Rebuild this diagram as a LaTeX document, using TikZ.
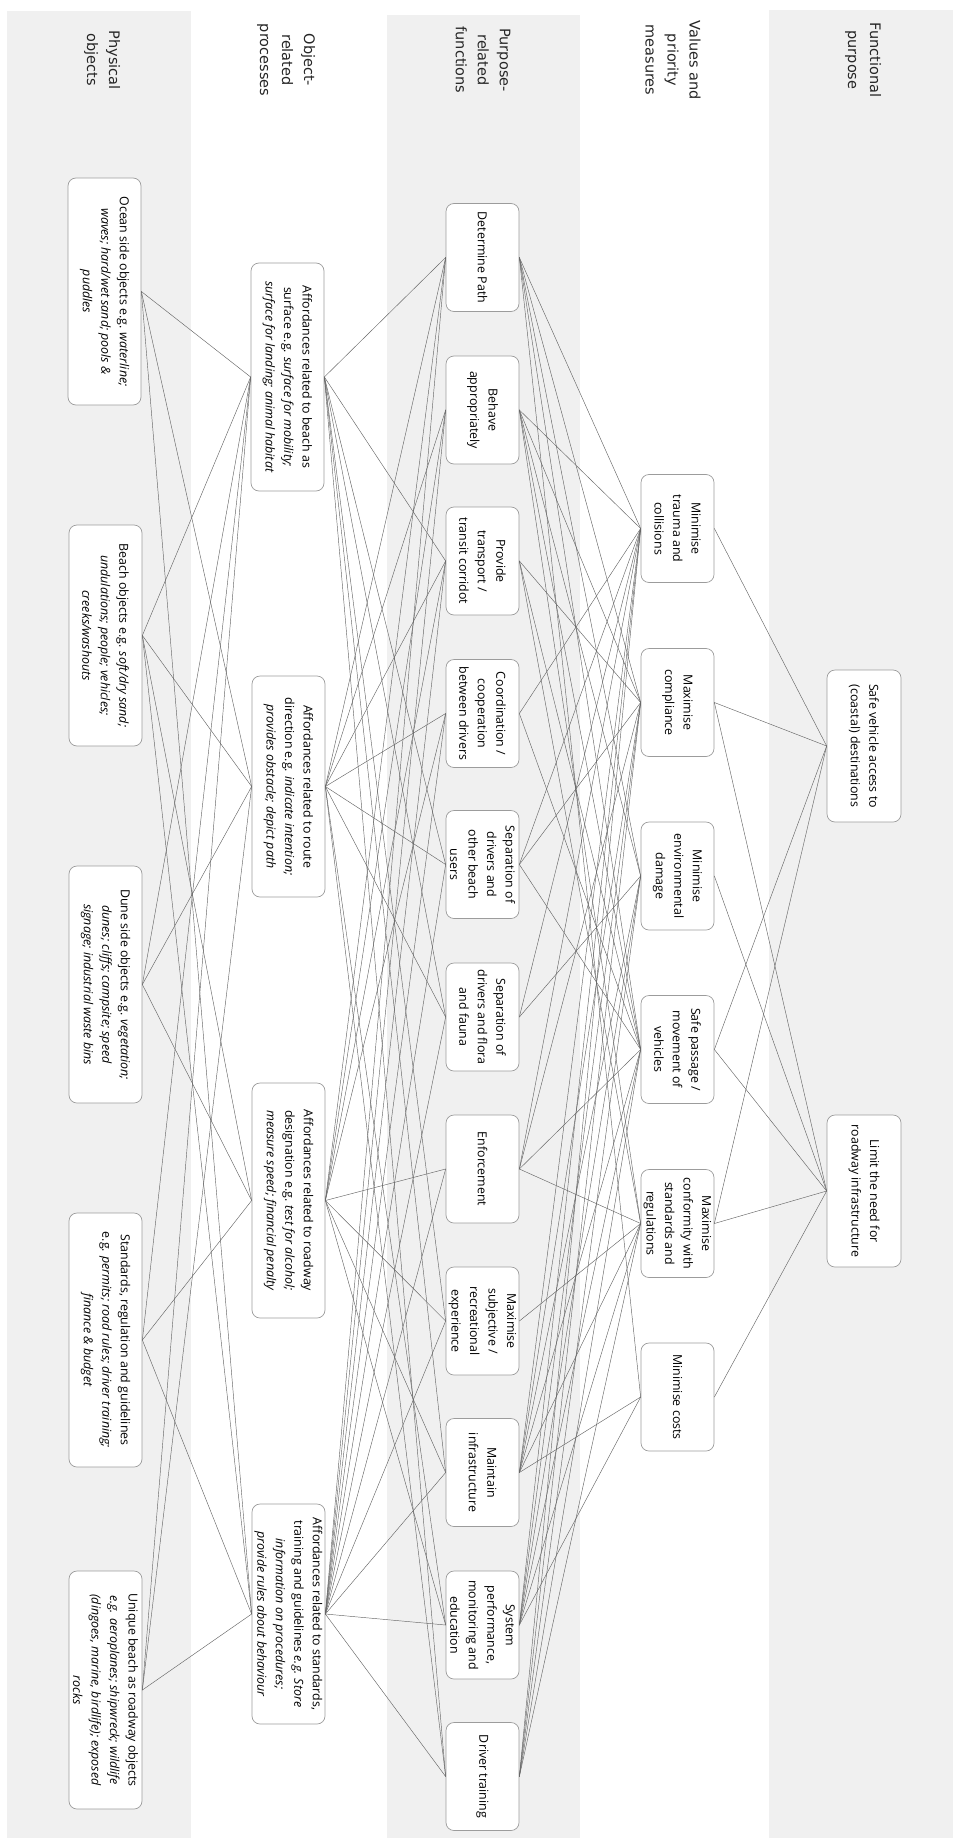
\documentclass[tikz,border=0pt]{standalone}
\usepackage{fontspec}
\setmainfont{Open Sans}
\newfontfamily\headfont{DejaVu Sans}
\definecolor{bandgrey}{HTML}{F0F0F0}
\definecolor{boxgrey}{HTML}{9C9C9C}
\begin{document}
\begin{tikzpicture}[x=1pt, y=-1pt, line join=round, line cap=round,
	box/.style={draw=boxgrey, fill=white, rounded corners=8pt, line width=0.7pt, rotate=-90,
		align=center, inner sep=1pt, minimum height=73pt, font=\fontsize{12.4}{18.5}\selectfont},
	pbox/.style={box, minimum width=227pt},
	obox/.style={box, minimum width=224pt},
	fbox/.style={box, minimum width=108pt},
	vbox/.style={box, minimum width=108pt},
	tbox/.style={box, minimum width=152pt, minimum height=74pt},
	head/.style={rotate=-90, align=center, text=black!85, font=\headfont\fontsize{14.5}{22}\selectfont},
	link/.style={draw=black!60, line width=0.45pt}]
	\useasboundingbox (0,0) rectangle (953,1838);
	% bands
	\fill[bandgrey] (7,11) rectangle (191,1838);
	\fill[bandgrey] (387,15) rectangle (580,1838);
	\fill[bandgrey] (769,10) rectangle (953,1838);
	% headers
	\node[head] (hp) at (102,60) {Physical\\objects};
	\node[head] (ho) at (286,60) {Object-\\related\\processes};
	\node[head] (hf) at (483,60) {Purpose-\\related\\functions};
	\node[head] (hv) at (673,60) {Values and\\priority\\measures};
	\node[head] (ht) at (863,60) {Functional\\purpose};
	% physical objects
	\node[pbox] (p1) at (104.5,291.5) {Ocean side objects e.g. \textit{waterline;}\\\textit{waves; hard/wet sand; pools \&}\\\textit{puddles}};
	\node[pbox, minimum width=221pt] (p2) at (105.5,635.5) {Beach objects e.g. \textit{soft/dry sand;}\\\textit{undulations; people; vehicles;}\\\textit{creeks/washouts}};
	\node[pbox, minimum width=237pt] (p3) at (105.5,984.5) {Dune side objects e.g. \textit{vegetation;}\\\textit{dunes; cliffs; campsite; speed}\\\textit{signage; industrial waste bins}};
	\node[pbox, minimum width=254pt] (p4) at (105.5,1340) {Standards, regulation and guidelines\\e.g. \textit{permits; road rules; driver training;}\\\textit{finance \& budget}};
	\node[pbox, minimum width=238pt] (p5) at (105.5,1690) {Unique beach as roadway objects\\\textit{e.g. aeroplanes; shipwreck; wildlife}\\\textit{(dingoes, marine, birdlife); exposed}\\\textit{rocks}};
	% object-related processes
	\node[obox, minimum width=228pt] (o1) at (287.5,377) {Affordances related to beach as\\surface e.g. \textit{surface for mobility;}\\\textit{surface for landing; animal habitat}};
	\node[obox, minimum width=221pt] (o2) at (288.5,786.5) {Affordances related to route\\direction e.g. \textit{indicate intention;}\\\textit{provides obstacle; depict path}};
	\node[obox, minimum width=235pt] (o3) at (288.5,1200.5) {Affordances related to roadway\\designation e.g. \textit{test for alcohol;}\\\textit{measure speed; financial penalty}};
	\node[obox, minimum width=220pt] (o4) at (288.5,1614) {Affordances related to standards,\\training and guidelines \textit{e.g. Store}\\\textit{information on procedures;}\\\textit{provide rules about behaviour}};
	% purpose-related functions
	\node[fbox] (f1) at (482.5,257.5) {Determine Path};
	\node[fbox] (f2) at (482.5,410) {Behave\\appropriately};
	\node[fbox] (f3) at (482.5,561) {Provide\\transport /\\transit corridot};
	\node[fbox] (f4) at (482.5,713.5) {Coordination /\\cooperation\\between drivers};
	\node[fbox] (f5) at (482.5,864.5) {Separation of\\drivers and\\other beach\\users};
	\node[fbox] (f6) at (482.5,1017) {Separation of\\drivers and flora\\and fauna};
	\node[fbox] (f7) at (482.5,1169) {Enforcement};
	\node[fbox] (f8) at (482.5,1321) {Maximise\\subjective /\\recreational\\experience};
	\node[fbox] (f9) at (482.5,1472.5) {Maintain\\infrastructure};
	\node[fbox] (f10) at (482.5,1625) {System\\performance,\\monitoring and\\education};
	\node[fbox] (f11) at (482.5,1776.5) {Driver training};
	% values and priority measures
	\node[vbox] (v1) at (677.5,528.5) {Minimise\\trauma and\\collisions};
	\node[vbox] (v2) at (677.5,702.5) {Maximise\\compliance};
	\node[vbox] (v3) at (677.5,876) {Minimise\\environmental\\damage};
	\node[vbox] (v4) at (677.5,1049.5) {Safe passage /\\movement of\\vehicles};
	\node[vbox] (v5) at (677.5,1223.5) {Maximise\\conformity with\\standards and\\regulations};
	\node[vbox] (v6) at (677.5,1397) {Minimise costs};
	% functional purpose
	\node[tbox] (t1) at (864,746) {Safe vehicle access to\\(coastal) destinations};
	\node[tbox] (t2) at (864,1191) {Limit the need for\\roadway infrastructure};
	% links
	\foreach \a/\b in {p1/o1,p1/o2,p1/o4, p2/o1,p2/o2,p2/o3,p2/o4, p3/o1,p3/o2,p3/o3,
		p4/o1,p4/o3,p4/o4, p5/o1,p5/o2,p5/o4}
		\draw[link] (\a.north) -- (\b.south);
	\foreach \a/\b in {o1/f1,o1/f3,o1/f5,o1/f6,o1/f8,o1/f9,o1/f11,
		o2/f1,o2/f2,o2/f3,o2/f4,o2/f5,o2/f6,o2/f10,o2/f11,
		o3/f1,o3/f2,o3/f3,o3/f4,o3/f7,o3/f8,o3/f9,o3/f10,
		o4/f1,o4/f2,o4/f3,o4/f4,o4/f5,o4/f6,o4/f7,o4/f8,o4/f9,o4/f10,o4/f11}
		\draw[link] (\a.north) -- (\b.south);
	\foreach \a/\b in {f1/v1,f2/v1,f4/v1,f5/v1,f6/v1,f7/v1,f9/v1,f10/v1,f11/v1,
		f1/v2,f2/v2,f3/v2,f5/v2,f7/v2,f9/v2,f10/v2,f11/v2,
		f1/v3,f2/v3,f6/v3,f9/v3,f10/v3,f11/v3,
		f1/v4,f2/v4,f3/v4,f4/v4,f5/v4,f7/v4,f9/v4,f10/v4,f11/v4,
		f2/v5,f3/v5,f7/v5,f8/v5,f9/v5,f10/v5,f11/v5,
		f1/v6,f9/v6,f10/v6}
		\draw[link] (\a.north) -- (\b.south);
	\foreach \a/\b in {v1/t1,v2/t1,v4/t1,v5/t1, v2/t2,v3/t2,v4/t2,v5/t2,v6/t2}
		\draw[link] (\a.north) -- (\b.south);
\end{tikzpicture}
\end{document}
